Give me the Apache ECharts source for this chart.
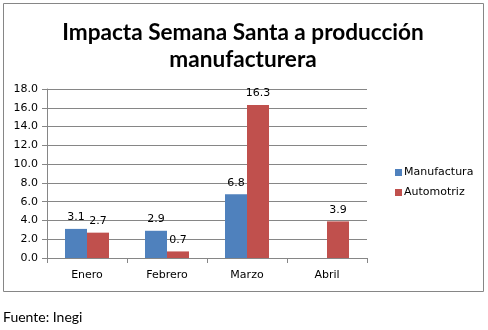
<!DOCTYPE html>
<html><head><meta charset="utf-8">
<script src="https://cdn.jsdelivr.net/npm/echarts@6/dist/echarts.min.js"></script>
<style>html,body{margin:0;padding:0;background:#fff}#c{width:488px;height:330px}</style>
</head><body><div id="c"></div>
<script>
const categories = ['Enero', 'Febrero', 'Marzo', 'Abril'];
const manufactura = [3.1, 2.9, 6.8, null];
const automotriz = [2.7, 0.7, 16.3, 3.9];
const seriesNames = ['Manufactura', 'Automotriz'];
const titleText = 'Impacta Semana Santa a producción\nmanufacturera';
const sourceText = 'Fuente: Inegi';

const chart = echarts.init(document.getElementById('c'), null, {renderer: 'canvas'});
const lbl = {show: true, position: 'top', distance: 6, color: '#000', fontFamily: 'DejaVu Sans', fontSize: 11,
  formatter: p => p.value == null ? '' : p.value.toFixed(1)};
chart.setOption({
  animation: false,
  backgroundColor: '#fff',
  title: {text: titleText, left: 238, top: 14, textAlign: 'center',
    textStyle: {fontFamily: 'Lato', fontWeight: 'bold', fontSize: 22.6, color: '#000', lineHeight: 27}},
  legend: {orient: 'vertical', left: 390, top: 162, itemWidth: 7, itemHeight: 7, itemGap: 9,
    icon: 'rect', textStyle: {fontFamily: 'DejaVu Sans', fontSize: 11, color: '#000', padding: [0, 0, 0, -3]},
    data: seriesNames},
  grid: {left: 47, right: 121, top: 89, bottom: 72, containLabel: false},
  xAxis: {type: 'category', data: categories,
    axisLine: {lineStyle: {color: '#868686'}},
    axisTick: {show: true, length: 5, lineStyle: {color: '#868686'}},
    axisLabel: {color: '#000', fontFamily: 'DejaVu Sans', fontSize: 11, margin: 12}},
  yAxis: {type: 'value', min: 0, max: 18, interval: 2,
    axisLine: {show: true, lineStyle: {color: '#868686'}},
    axisTick: {show: true, length: 5, lineStyle: {color: '#868686'}},
    splitLine: {lineStyle: {color: '#868686'}},
    axisLabel: {color: '#000', fontFamily: 'DejaVu Sans', fontSize: 11, margin: 9, formatter: v => v.toFixed(1)}},
  series: [
    {name: seriesNames[0], type: 'bar', data: manufactura, barWidth: 22, barGap: '0%',
     itemStyle: {color: '#4F81BD'}, label: lbl},
    {name: seriesNames[1], type: 'bar', data: automotriz, barWidth: 22, barGap: '0%',
     itemStyle: {color: '#C0504D'}, label: lbl}
  ],
  graphic: [
    {type: 'rect', shape: {x: 3.5, y: 3.5, width: 480, height: 288}, z: -1,
     style: {fill: 'none', stroke: '#868686', lineWidth: 1}},
    {type: 'text', left: 3, top: 310, style: {text: sourceText, fontFamily: 'Lato', fontSize: 14, fill: '#000'}}
  ]
});
</script></body></html>
